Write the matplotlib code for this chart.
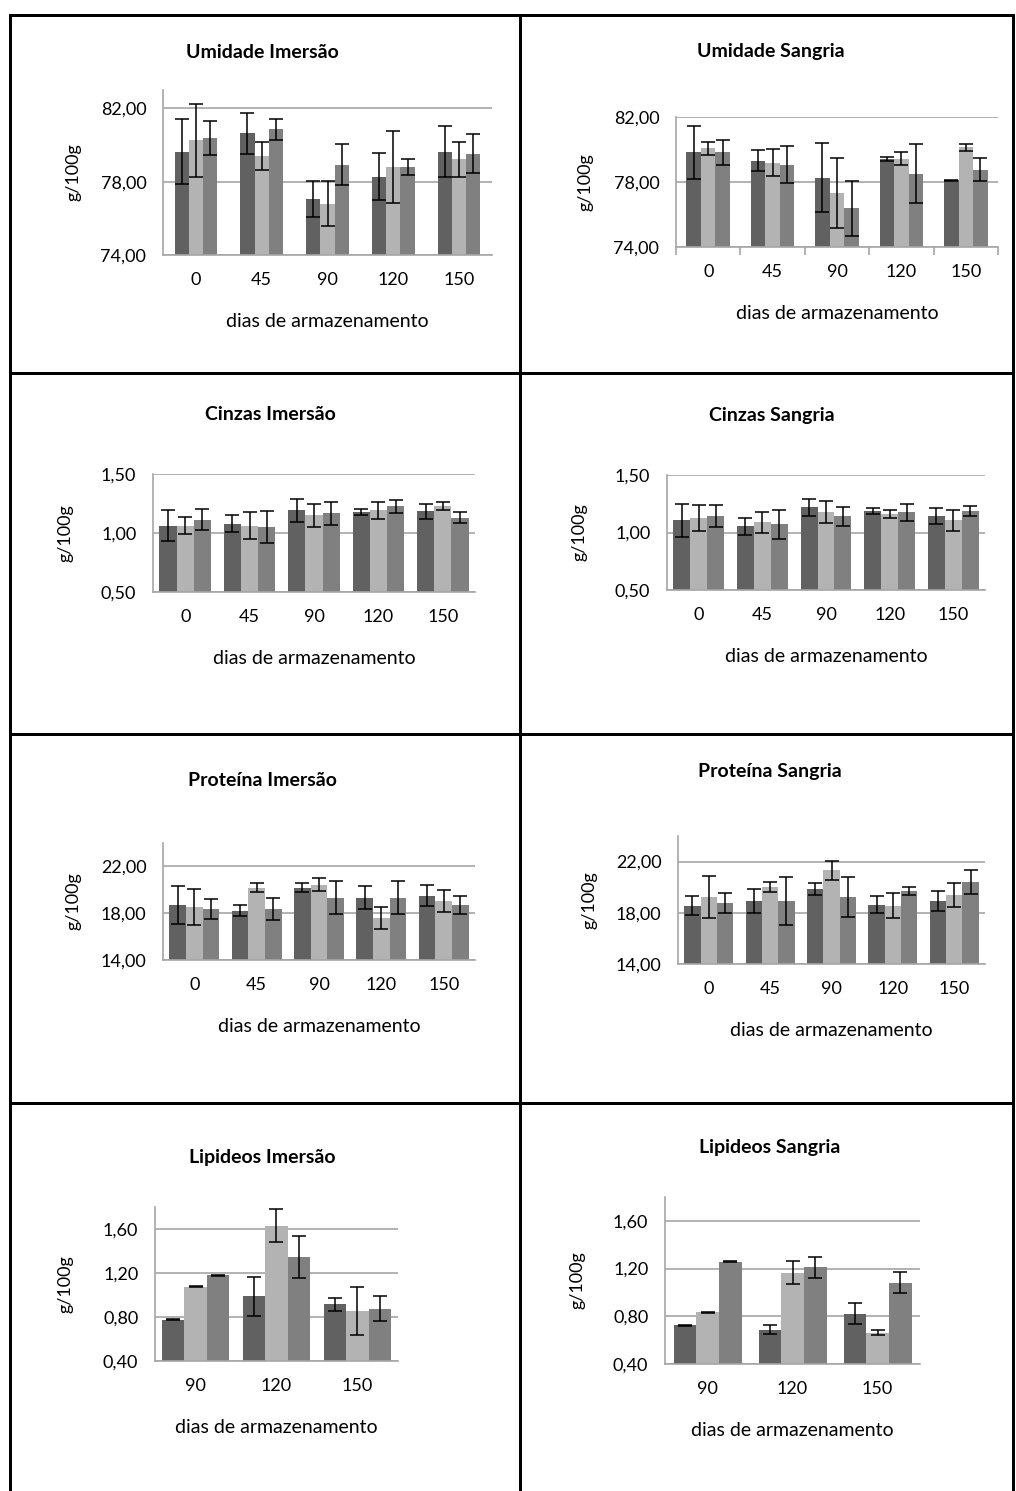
import matplotlib
matplotlib.use("Agg")
import matplotlib.pyplot as plt
from matplotlib.lines import Line2D
import numpy as np

plt.rcParams["font.family"] = ["Lato", "DejaVu Sans"]

# storage days
days5 = ["0", "45", "90", "120", "150"]
days3 = ["90", "120", "150"]

# means per series (rows) and day (columns), with error bars
umid_imer = [[79.64, 80.63, 77.07, 78.27, 79.64],
             [80.25, 79.42, 76.79, 78.80, 79.21],
             [80.36, 80.85, 78.93, 78.80, 79.53]]
umid_imer_err = [[1.78, 1.13, 0.97, 1.28, 1.37],
                 [1.98, 0.76, 1.23, 1.99, 0.95],
                 [0.93, 0.56, 1.13, 0.45, 1.07]]

umid_sang = [[79.82, 79.32, 78.26, 79.42, 78.11],
             [80.07, 79.19, 77.32, 79.44, 80.13],
             [79.82, 79.07, 76.39, 78.51, 78.76]]
umid_sang_err = [[1.65, 0.63, 2.12, 0.13, 0.03],
                 [0.41, 0.83, 2.17, 0.42, 0.23],
                 [0.75, 1.13, 1.70, 1.83, 0.70]]

cinz_imer = [[1.063, 1.080, 1.191, 1.180, 1.183],
             [1.063, 1.063, 1.149, 1.191, 1.226],
             [1.114, 1.054, 1.166, 1.226, 1.131]]
cinz_imer_err = [[0.135, 0.071, 0.096, 0.025, 0.065],
                 [0.070, 0.115, 0.097, 0.072, 0.033],
                 [0.090, 0.136, 0.096, 0.055, 0.050]]

cinz_sang = [[1.107, 1.055, 1.220, 1.186, 1.142],
             [1.125, 1.090, 1.177, 1.159, 1.107],
             [1.142, 1.072, 1.142, 1.177, 1.186]]
cinz_sang_err = [[0.142, 0.075, 0.074, 0.025, 0.067],
                 [0.113, 0.092, 0.093, 0.034, 0.092],
                 [0.093, 0.125, 0.084, 0.075, 0.042]]

prot_imer = [[18.72, 18.20, 20.19, 19.32, 19.50],
             [18.55, 20.19, 20.45, 17.60, 19.06],
             [18.37, 18.37, 19.32, 19.32, 18.72]]
prot_imer_err = [[1.61, 0.47, 0.40, 0.97, 0.87],
                 [1.54, 0.37, 0.58, 0.95, 0.96],
                 [0.88, 0.97, 1.43, 1.43, 0.79]]

prot_sang = [[18.54, 18.93, 19.86, 18.62, 18.93],
             [19.24, 20.01, 21.33, 18.54, 19.39],
             [18.77, 18.93, 19.24, 19.70, 20.40]]
prot_sang_err = [[0.74, 0.95, 0.45, 0.66, 0.80],
                 [1.64, 0.37, 0.75, 0.97, 0.90],
                 [0.81, 1.85, 1.56, 0.30, 0.95]]

lip_imer = [[0.775, 0.987, 0.914],
            [1.076, 1.631, 0.858],
            [1.180, 1.346, 0.877]]
lip_imer_err = [[0.004, 0.175, 0.060],
                [0.004, 0.147, 0.218],
                [0.004, 0.192, 0.112]]

lip_sang = [[0.724, 0.688, 0.822],
            [0.834, 1.166, 0.663],
            [1.256, 1.211, 1.082]]
lip_sang_err = [[0.005, 0.040, 0.088],
                [0.005, 0.097, 0.024],
                [0.005, 0.088, 0.090]]

titles = ["Umidade Imersão", "Umidade Sangria", "Cinzas Imersão", "Cinzas Sangria",
          "Proteína Imersão", "Proteína Sangria", "Lipideos Imersão", "Lipideos Sangria"]

colors = ["#616161", "#b3b3b3", "#808080"]
W, H = 1016, 1491

# panel boxes in pixels: left, right, top, bottom
panels = [
    (umid_imer, umid_imer_err, days5, (74, 83), [74, 78, 82], 0.65, (163, 492, 90, 255), (262, 52), 73),
    (umid_sang, umid_sang_err, days5, (74, 82), [74, 78, 82], 0.68, (676, 998, 117, 247), (771, 52), 585),
    (cinz_imer, cinz_imer_err, days5, (0.5, 1.5), [0.5, 1.0, 1.5], 0.8, (153, 475, 474, 592), (270, 415), 65),
    (cinz_sang, cinz_sang_err, days5, (0.5, 1.5), [0.5, 1.0, 1.5], 0.8, (667, 985, 475, 590), (772, 415), 580),
    (prot_imer, prot_imer_err, days5, (14, 24), [14, 18, 22], 0.8, (163, 475, 843, 960), (262, 780), 73),
    (prot_sang, prot_sang_err, days5, (14, 24), [14, 18, 22], 0.8, (678, 985, 836, 964), (770, 772), 590),
    (lip_imer, lip_imer_err, days3, (0.4, 1.8), [0.4, 0.8, 1.2, 1.6], 0.82, (155, 398, 1207, 1361), (262, 1157), 65),
    (lip_sang, lip_sang_err, days3, (0.4, 1.8), [0.4, 0.8, 1.2, 1.6], 0.8, (665, 920, 1197, 1364), (770, 1147), 578),
]

fig = plt.figure(figsize=(W / 100, H / 100), dpi=100)

for i, (vals, errs, cats, ylim, yticks, gw, box, tpos, ylx) in enumerate(panels):
    l, r, t, b = box
    ax = fig.add_axes([l / W, 1 - b / H, (r - l) / W, (b - t) / H])
    n = len(cats)
    x = np.arange(n) + 0.5
    bw = gw / 3
    for k in range(3):
        ax.bar(x + (k - 1) * bw, np.array(vals[k]) - ylim[0], bw, bottom=ylim[0],
               color=colors[k], zorder=2)
        ax.errorbar(x + (k - 1) * bw, vals[k], yerr=errs[k], fmt="none",
                    ecolor="black", elinewidth=1.1, capsize=5, capthick=1.1, zorder=3)
    ax.set_xlim(0, n)
    ax.set_ylim(*ylim)
    ax.set_xticks(x)
    ax.set_xticklabels(cats)
    ax.set_yticks(yticks)
    ax.set_yticklabels([f"{v:.2f}".replace(".", ",") for v in yticks])
    ax.yaxis.grid(True, color="#a6a6a6", linewidth=1.2, zorder=0)
    ax.set_axisbelow(True)
    for s in ["top", "right"]:
        ax.spines[s].set_visible(False)
    for s in ["left", "bottom"]:
        ax.spines[s].set_color("#a6a6a6")
        ax.spines[s].set_linewidth(1.2)
    ax.tick_params(axis="both", length=0, labelsize=13, colors="black")
    ax.tick_params(axis="x", pad=12)
    ax.tick_params(axis="y", pad=12)
    if i == 1:
        ax.set_xticks(np.arange(n + 1), minor=True)
        ax.tick_params(axis="x", which="minor", length=6, color="#a6a6a6", width=1.2)
    ax.set_xlabel("dias de armazenamento", fontsize=14, labelpad=18)
    fig.text(tpos[0] / W, 1 - tpos[1] / H, titles[i], fontsize=14, fontweight="bold",
             ha="center", va="center")
    fig.text(ylx / W, 1 - ((t + b) / 2) / H, "g/100g", fontsize=13, rotation=90,
             ha="center", va="center")

# table borders
lw = 3
for y in [15, 373, 734, 1103]:
    fig.add_artist(Line2D([10 / W, 1013 / W], [1 - y / H, 1 - y / H], color="black", lw=lw * 0.72))
for xv in [10, 520, 1013]:
    fig.add_artist(Line2D([xv / W, xv / W], [1 - 15 / H, 0], color="black", lw=lw * 0.72))

fig.savefig("out.png", dpi=100)
